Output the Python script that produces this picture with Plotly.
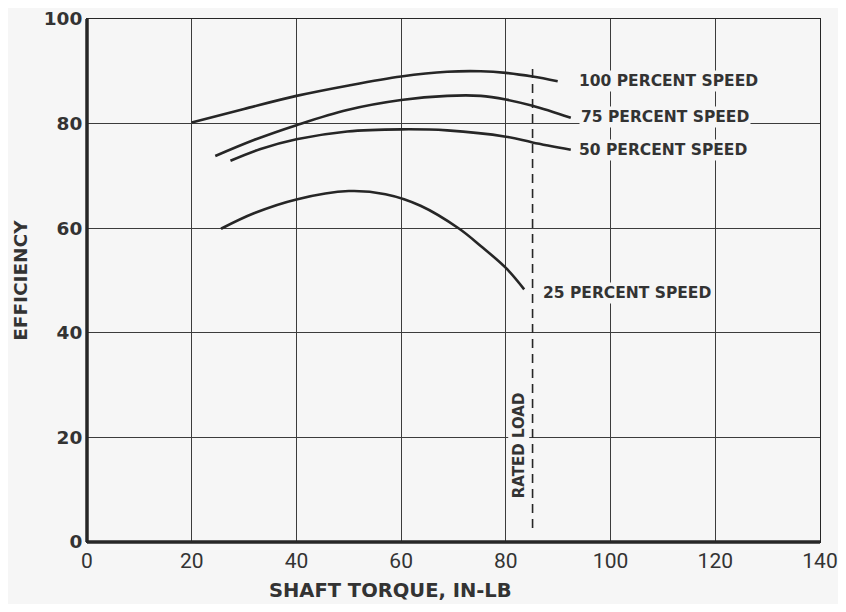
import plotly.graph_objects as go

INK = "#262626"
TEXT = "#333333"
GRID = "#3c3c3c"
PAPER = "#f6f6f6"
BOLD = "DejaVu Sans"

# speed curves (torque in-lb, efficiency %)
torque_100 = [20, 30, 40, 50, 60, 68.8, 75.2, 80, 85.1, 89.9]
eff_100 = [80.2, 82.8, 85.3, 87.3, 89.0, 89.9, 90.0, 89.7, 89.0, 88.1]

torque_75 = [24.5, 32, 40, 49.7, 60, 68.8, 75.2, 80, 85.1, 92.4]
eff_75 = [73.8, 76.9, 79.7, 82.6, 84.5, 85.3, 85.3, 84.6, 83.4, 81.1]

torque_50 = [27.4, 33, 40, 49.7, 60, 68.8, 80, 85.1, 92.4]
eff_50 = [72.9, 75.1, 77.0, 78.5, 78.9, 78.7, 77.5, 76.4, 75.0]

torque_25 = [25.6, 32, 40, 50, 57, 63.7, 71.1, 75.2, 80, 83.5]
eff_25 = [59.9, 62.9, 65.5, 67.1, 66.5, 64.3, 59.9, 56.6, 52.4, 48.3]

rated_torque = [85.1, 85.1]
rated_eff = [2.7, 91.4]

labels = ["100 PERCENT SPEED", "75 PERCENT SPEED", "50 PERCENT SPEED", "25 PERCENT SPEED"]
label_x = [93.6, 94.0, 93.6, 86.7]
label_y = [88.2, 81.3, 75.0, 47.7]

x_ticks = [0, 20, 40, 60, 80, 100, 120, 140]
y_ticks = [0, 20, 40, 60, 80, 100]

fig = go.Figure()
for xs, ys in [(torque_100, eff_100), (torque_75, eff_75), (torque_50, eff_50), (torque_25, eff_25)]:
    fig.add_trace(go.Scatter(
        x=xs, y=ys, mode="lines", line={"color": INK, "width": 2.6, "shape": "spline", "smoothing": 1.0},
        showlegend=False, hoverinfo="skip",
    ))
fig.add_trace(go.Scatter(
    x=rated_torque, y=rated_eff, mode="lines",
    line={"color": INK, "width": 1.6, "dash": "9px,6px"},
    showlegend=False, hoverinfo="skip",
))

for text, x, y in zip(labels, label_x, label_y):
    fig.add_annotation(
        x=x, y=y, text=text, showarrow=False, xanchor="left", yanchor="middle",
        font={"family": BOLD, "size": 15.5, "color": TEXT, "weight": "bold"},
        bgcolor=PAPER, borderpad=1,
    )
fig.add_annotation(
    x=82.5, y=18.5, text="RATED LOAD", textangle=-90, showarrow=False,
    font={"family": BOLD, "size": 15, "color": TEXT, "weight": "bold"},
    bgcolor=PAPER, borderpad=1,
)
fig.add_annotation(
    x=58, xref="x", y=-0.093, yref="paper", text="SHAFT TORQUE, IN-LB", showarrow=False,
    yanchor="middle", font={"family": BOLD, "size": 19.5, "color": TEXT, "weight": "bold"},
)
fig.add_annotation(
    x=-0.091, xref="paper", y=50, yref="y", text="EFFICIENCY", textangle=-90, showarrow=False,
    xanchor="center", font={"family": BOLD, "size": 18.5, "color": TEXT, "weight": "bold"},
)

# heavier left and bottom frame, as in the print
fig.add_shape(type="line", xref="paper", yref="paper", x0=0, x1=0, y0=0, y1=1, line={"color": INK, "width": 3.5})
fig.add_shape(type="line", xref="paper", yref="paper", x0=0, x1=1, y0=0, y1=0, line={"color": INK, "width": 3.5})

fig.update_layout(
    paper_bgcolor=PAPER, plot_bgcolor=PAPER,
    margin={"l": 79, "r": 18, "t": 11, "b": 62},
    font={"family": "Roboto", "color": TEXT},
)
fig.update_xaxes(
    range=[0, 140], tickvals=x_ticks, showgrid=True, gridcolor=GRID, gridwidth=1,
    showline=True, linecolor=INK, linewidth=1, mirror=True, zeroline=False, ticks="",
    tickfont={"family": "Roboto", "size": 21, "color": TEXT}, automargin=False,
    ticklabeloverflow="allow",
)
fig.update_yaxes(
    range=[0, 100], tickvals=y_ticks, showgrid=True, gridcolor=GRID, gridwidth=1,
    showline=True, linecolor=INK, linewidth=1, mirror=True, zeroline=False, ticks="",
    tickfont={"family": BOLD, "size": 18.5, "color": TEXT, "weight": "bold"}, automargin=False,
    ticklabeloverflow="allow",
)

fig.write_html("out.html")
